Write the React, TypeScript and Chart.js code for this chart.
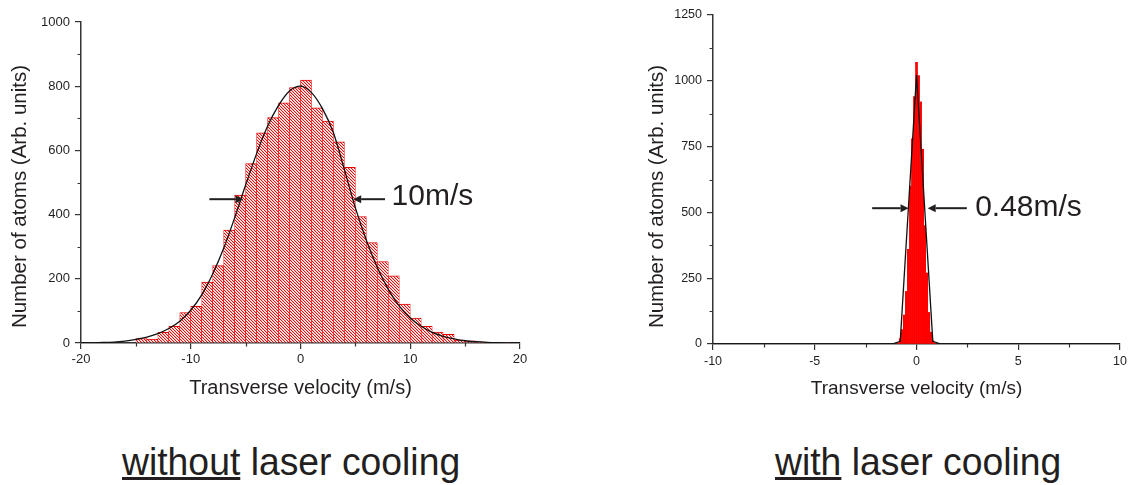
import React, { useEffect, useRef } from 'react';
import { Chart, registerables } from 'chart.js';

Chart.register(...registerables);

// ---------- Data: without laser cooling (left) ----------
const leftBinCenters = [
  -14.5, -13.5, -12.5, -11.5, -10.5, -9.5, -8.5, -7.5, -6.5, -5.5, -4.5, -3.5, -2.5, -1.5, -0.5,
  0.5, 1.5, 2.5, 3.5, 4.5, 5.5, 6.5, 7.5, 8.5, 9.5, 10.5, 11.5, 12.5, 13.5, 14.5, 15.5, 16.5, 17.5, 18.5,
];
const leftCounts = [
  14, 12, 33, 52, 95, 114, 190, 241, 352, 461, 559, 655, 702, 748, 796,
  819, 733, 691, 627, 547, 394, 313, 254, 209, 121, 78, 52, 34, 27, 9, 7, 3, 2, 2,
];
const leftFitX = [
  -20, -19, -18, -17, -16, -15, -14, -13, -12, -11, -10, -9, -8, -7, -6, -5, -4, -3, -2, -1,
  0, 1, 2, 3, 4, 5, 6, 7, 8, 9, 10, 11, 12, 13, 14, 15, 16, 17, 18, 19, 20,
];
const leftFitY = [
  0.3, 0.7, 1.5, 3, 6, 11, 18, 29, 45, 68, 102, 150, 215, 295, 390, 492, 590, 675, 740, 785,
  800, 780, 730, 655, 540, 421, 320, 235, 167, 115, 78, 52, 33, 21, 13, 7, 4, 2, 1, 0.5, 0.2,
];
const leftXMinorTicks = [-15, -5, 5, 15];
const leftYMinorTicks = [100, 300, 500, 700, 900];

// ---------- Data: with laser cooling (right) ----------
const rightBinCenters = [
  -0.9, -0.8, -0.7, -0.6, -0.5, -0.4, -0.3, -0.2, -0.1, 0, 0.1, 0.2, 0.3, 0.4, 0.5, 0.6, 0.7, 0.8, 0.9,
];
const rightCounts = [
  4, 20, 55, 110, 200, 360, 600, 780, 940, 1070, 1020, 920, 740, 450, 270, 120, 45, 12, 4,
];
const rightFitX = [-10, -1.2, -0.8, 0, 0.8, 1.2, 10];
const rightFitY = [0, 0, 10, 1022, 10, 0, 0];
const rightXMinorTicks = [-7.5, -2.5, 2.5, 7.5];
const rightYMinorTicks = [125, 375, 625, 875, 1125];

const FONT = '"Liberation Sans", Arial, Helvetica, sans-serif';
const INK = '#231f20';
const AXIS = '#333333';

function makeOverlay(cfg: any) {
  return {
    id: 'overlay',
    afterDraw(chart: any) {
      const { ctx, chartArea: ca, scales } = chart;
      const xs = scales.x;
      const ys = scales.y;
      ctx.save();
      // minor ticks
      ctx.strokeStyle = AXIS;
      ctx.lineWidth = 1.2;
      ctx.beginPath();
      for (const v of cfg.xMinor) {
        const px = Math.round(xs.getPixelForValue(v)) + 0.5;
        ctx.moveTo(px, ca.bottom);
        ctx.lineTo(px, ca.bottom + 3.5);
      }
      for (const v of cfg.yMinor) {
        const py = Math.round(ys.getPixelForValue(v)) + 0.5;
        ctx.moveTo(ca.left, py);
        ctx.lineTo(ca.left - 3.5, py);
      }
      ctx.stroke();
      // arrows
      ctx.fillStyle = INK;
      ctx.strokeStyle = INK;
      ctx.lineWidth = 2;
      for (const a of cfg.arrows) {
        const x1 = xs.getPixelForValue(a.from);
        const x2 = xs.getPixelForValue(a.to);
        const py = ys.getPixelForValue(a.y);
        const dir = Math.sign(x2 - x1);
        const head = 8;
        ctx.beginPath();
        ctx.moveTo(x1, py);
        ctx.lineTo(x2 - dir * head, py);
        ctx.stroke();
        ctx.beginPath();
        ctx.moveTo(x2, py);
        ctx.lineTo(x2 - dir * head, py - 4);
        ctx.lineTo(x2 - dir * head, py + 4);
        ctx.closePath();
        ctx.fill();
      }
      // width label
      ctx.font = `${cfg.labelSize}px ${FONT}`;
      ctx.textAlign = 'left';
      ctx.textBaseline = 'middle';
      ctx.fillText(cfg.label, xs.getPixelForValue(cfg.labelX), ys.getPixelForValue(cfg.labelY));
      // y title
      ctx.save();
      ctx.translate(cfg.yTitleX, cfg.yTitleY);
      ctx.rotate(-Math.PI / 2);
      ctx.font = `${cfg.yTitleSize}px ${FONT}`;
      ctx.textAlign = 'center';
      ctx.textBaseline = 'middle';
      ctx.fillText(cfg.yTitle, 0, 0);
      ctx.restore();
      // x title
      ctx.font = `${cfg.xTitleSize}px ${FONT}`;
      ctx.textAlign = 'center';
      ctx.textBaseline = 'middle';
      ctx.fillText(cfg.xTitle, (ca.left + ca.right) / 2, ca.bottom + cfg.xTitleDy);
      ctx.restore();
    },
  };
}

function buildConfig(o: any) {
  const axisGrid = {
    drawOnChartArea: false,
    drawTicks: true,
    tickLength: 6,
    color: AXIS,
    lineWidth: 1.2,
    offset: false,
  };
  const axisBorder = { display: true, color: AXIS, width: 1.5 };
  return {
    type: 'bar',
    data: {
      datasets: [
        {
          type: 'bar',
          data: o.binCenters.map((x: number, i: number) => ({ x, y: o.counts[i] })),
          backgroundColor: o.barFill,
          borderColor: o.barBorder,
          borderWidth: o.barBorderWidth,
          borderSkipped: 'start',
          barPercentage: 1,
          categoryPercentage: 1,
          order: 2,
        },
        {
          type: 'line',
          data: o.fitX.map((x: number, i: number) => ({ x, y: o.fitY[i] })),
          borderColor: '#111111',
          borderWidth: 1.3,
          pointRadius: 0,
          tension: o.tension,
          cubicInterpolationMode: o.tension > 0 ? 'monotone' : 'default',
          fill: false,
          order: 1,
        },
      ],
    },
    options: {
      animation: false,
      responsive: false,
      maintainAspectRatio: false,
      layout: { padding: { top: o.padTop, right: o.padRight, bottom: 0, left: 0 } },
      plugins: { legend: { display: false }, tooltip: { enabled: false }, title: { display: false } },
      scales: {
        x: {
          type: 'linear',
          min: o.xMin,
          max: o.xMax,
          offset: false,
          afterFit: (s: any) => {
            s.height = o.xAxisHeight;
          },
          ticks: {
            stepSize: o.xStep,
            autoSkip: false,
            maxRotation: 0,
            color: INK,
            font: { family: FONT, size: o.tickFont },
            padding: o.xTickPad,
            callback: (v: any) => String(v),
          },
          grid: axisGrid,
          border: axisBorder,
        },
        y: {
          type: 'linear',
          min: 0,
          max: o.yMax,
          afterFit: (s: any) => {
            s.width = o.yAxisWidth;
          },
          ticks: {
            stepSize: o.yStep,
            color: INK,
            font: { family: FONT, size: o.tickFont },
            padding: 5,
            callback: (v: any) => String(v),
          },
          grid: axisGrid,
          border: axisBorder,
        },
      },
    },
    plugins: [makeOverlay(o.overlay)],
  };
}

function makeHatch(): CanvasPattern | string {
  const pc = document.createElement('canvas');
  pc.width = 3;
  pc.height = 3;
  const g = pc.getContext('2d');
  if (!g) return '#ff8080';
  g.fillStyle = '#ffffff';
  g.fillRect(0, 0, 3, 3);
  g.fillStyle = '#ffc0c0';
  g.fillRect(1, 0, 1, 1);
  g.fillRect(2, 1, 1, 1);
  g.fillRect(0, 2, 1, 1);
  g.fillStyle = '#ff0000';
  for (let i = 0; i < 3; i++) g.fillRect(i, i, 1, 1);
  const p = g.createPattern(pc, 'repeat');
  return p || '#ff8080';
}

export default function App() {
  const leftRef = useRef<HTMLCanvasElement | null>(null);
  const rightRef = useRef<HTMLCanvasElement | null>(null);

  useEffect(() => {
    if (!leftRef.current || !rightRef.current) return;
    const hatch = makeHatch();
    const left = new Chart(
      leftRef.current,
      buildConfig({
        binCenters: leftBinCenters,
        counts: leftCounts,
        fitX: leftFitX,
        fitY: leftFitY,
        tension: 0.4,
        barFill: hatch,
        barBorder: '#e00000',
        barBorderWidth: { top: 1, left: 0.6, right: 0.6, bottom: 0 },
        xMin: -20,
        xMax: 20,
        xStep: 10,
        yMax: 1000,
        yStep: 200,
        yAxisWidth: 81,
        xAxisHeight: 77,
        padTop: 22,
        padRight: 40,
        tickFont: 13,
        xTickPad: 3,
        overlay: {
          xMinor: leftXMinorTicks,
          yMinor: leftYMinorTicks,
          arrows: [
            { from: -8.3, to: -5.2, y: 448 },
            { from: 7.7, to: 4.8, y: 448 },
          ],
          label: '10m/s',
          labelX: 8.3,
          labelY: 456,
          labelSize: 30,
          yTitle: 'Number of atoms (Arb. units)',
          yTitleX: 20.5,
          yTitleY: 196.5,
          yTitleSize: 20.5,
          xTitle: 'Transverse velocity (m/s)',
          xTitleDy: 45,
          xTitleSize: 20,
        },
      }) as any
    );
    const right = new Chart(
      rightRef.current,
      buildConfig({
        binCenters: rightBinCenters,
        counts: rightCounts,
        fitX: rightFitX,
        fitY: rightFitY,
        tension: 0,
        barFill: '#ff0000',
        barBorder: '#ee0000',
        barBorderWidth: 0,
        xMin: -10,
        xMax: 10,
        xStep: 5,
        yMax: 1250,
        yStep: 250,
        yAxisWidth: 83,
        xAxisHeight: 76,
        padTop: 15,
        padRight: 8,
        tickFont: 12.5,
        xTickPad: 4,
        overlay: {
          xMinor: rightXMinorTicks,
          yMinor: rightYMinorTicks,
          arrows: [
            { from: -2.18, to: -0.39, y: 516 },
            { from: 2.47, to: 0.55, y: 516 },
          ],
          label: '0.48m/s',
          labelX: 2.88,
          labelY: 519,
          labelSize: 30,
          yTitle: 'Number of atoms (Arb. units)',
          yTitleX: 27,
          yTitleY: 196.5,
          yTitleSize: 20.5,
          xTitle: 'Transverse velocity (m/s)',
          xTitleDy: 45,
          xTitleSize: 19,
        },
      }) as any
    );
    return () => {
      left.destroy();
      right.destroy();
    };
  }, []);

  const caption: React.CSSProperties = {
    position: 'absolute',
    top: 441.5,
    fontFamily: FONT,
    fontSize: 39,
    lineHeight: '39px',
    color: INK,
    whiteSpace: 'nowrap',
    transform: 'scaleX(0.957)',
    transformOrigin: 'left top',
  };

  return (
    <div
      style={{
        position: 'fixed',
        left: 0,
        top: 0,
        width: 1131,
        height: 485,
        background: '#ffffff',
        overflow: 'hidden',
      }}
    >
      <canvas
        ref={leftRef}
        width={560}
        height={420}
        style={{ position: 'absolute', left: 0, top: 0, width: 560, height: 420 }}
      />
      <canvas
        ref={rightRef}
        width={501}
        height={420}
        style={{ position: 'absolute', left: 630, top: 0, width: 501, height: 420 }}
      />
      <div style={{ ...caption, left: 122 }}>
        <u>without</u> laser cooling
      </div>
      <div style={{ ...caption, left: 775 }}>
        <u>with</u> laser cooling
      </div>
    </div>
  );
}
